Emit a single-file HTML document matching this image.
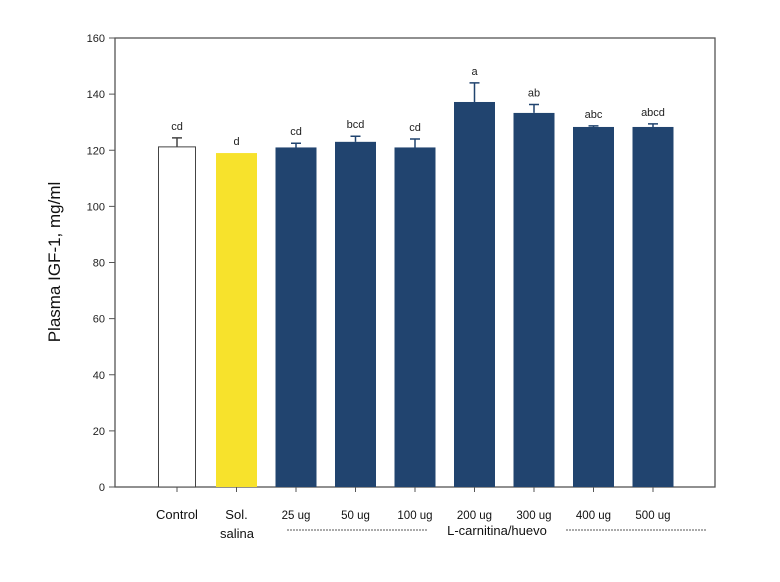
<!DOCTYPE html>
<html><head><meta charset="utf-8"><style>
body{margin:0;background:#fff;}
svg{display:block;font-family:"Liberation Sans",sans-serif;}
</style></head><body>
<svg id="chart" width="780" height="582">
<rect x="115" y="38" width="600" height="449" fill="none" stroke="#555" stroke-width="1.3"/>
<g id="yaxis"></g>
<g id="bars"></g>
<text transform="translate(60,262) rotate(-90)" text-anchor="middle" font-size="17" fill="#111">Plasma IGF-1, mg/ml</text>
<text x="237" y="538" text-anchor="middle" font-size="13" fill="#111">salina</text>
<line x1="287" y1="530" x2="428" y2="530" stroke="#555" stroke-width="1" stroke-dasharray="2,1"/>
<text x="497" y="535" text-anchor="middle" font-size="13" fill="#111">L-carnitina/huevo</text>
<line x1="566" y1="530" x2="707" y2="530" stroke="#555" stroke-width="1" stroke-dasharray="2,1"/>
</svg>
<script>
const categories=["Control","Sol.","25 ug","50 ug","100 ug","200 ug","300 ug","400 ug","500 ug"];
const values=[121.2,119,121,123,121,137.2,133.3,128.3,128.3];
const errors=[3.2,0,1.5,2,3,6.8,3,0.4,1.1];
const letters=["cd","d","cd","bcd","cd","a","ab","abc","abcd"];
const colors=["#fff","#f7e22c","#21446f","#21446f","#21446f","#21446f","#21446f","#21446f","#21446f"];
const yTicks=[0,20,40,60,80,100,120,140,160];
const NS="http://www.w3.org/2000/svg";
const y0=487,yTop=38,yMax=160;
const yS=v=>y0-(y0-yTop)*v/yMax;
const xS=i=>177+59.5*i;
function mk(t,a,p){const e=document.createElementNS(NS,t);for(const k in a)e.setAttribute(k,a[k]);p.appendChild(e);return e;}
const ya=document.getElementById('yaxis');
yTicks.forEach(v=>{
 const l=mk('line',{x1:109,x2:115,y1:yS(v),y2:yS(v),stroke:'#555'},ya);
 
 
 const t=mk('text',{x:105,y:yS(v)+4,'text-anchor':'end','font-size':11,fill:'#222'},ya);
 t.textContent=v;
 
 
});
const g=document.getElementById('bars');
categories.forEach((c,i)=>{
 const cx=xS(i),w=i==0?37:41;
 const r=mk('rect',{x:cx-w/2,y:yS(values[i]),width:w,height:y0-yS(values[i]),fill:colors[i],stroke:i==0?'#444':'none','stroke-width':1},g);
 
 
 if(errors[i]>0){
  const e=mk('path',{d:`M${cx},${yS(values[i])}V${yS(values[i]+errors[i])}M${cx-5},${yS(values[i]+errors[i])}H${cx+5}`,stroke:colors[i]=='#fff'?'#444':'#21446f','stroke-width':1.5,fill:'none'},g);
  
  
 }
 const lt=mk('text',{x:cx,y:yS(values[i]+errors[i])-8,'text-anchor':'middle','font-size':11,fill:'#222'},g);
 lt.textContent=letters[i];
 
 
 const tk=mk('line',{x1:cx,x2:cx,y1:y0,y2:y0+5,stroke:'#555'},g);
 
 
 const xl=mk('text',{x:cx,y:519,'text-anchor':'middle','font-size':i<2?13:11.5,fill:'#111'},g);
 xl.textContent=c;
 
 
});
</script>
</body></html>
